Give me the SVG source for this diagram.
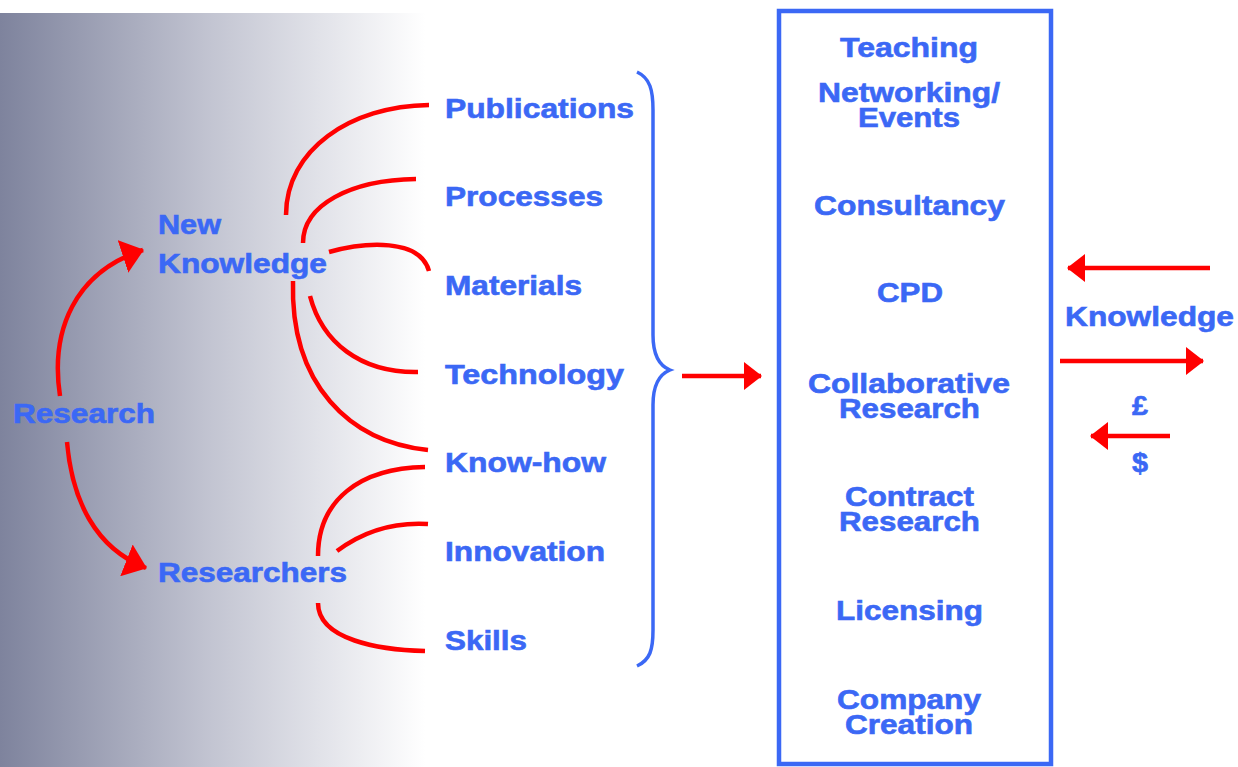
<svg xmlns="http://www.w3.org/2000/svg" width="1238" height="767" viewBox="0 0 1238 767">
<defs>
<linearGradient id="bg" x1="0" y1="0" x2="1" y2="0">
<stop offset="0" stop-color="#7e839d"/>
<stop offset="0.5" stop-color="#c3c5d2"/>
<stop offset="1" stop-color="#ffffff"/>
</linearGradient>
<marker id="ah" viewBox="0 0 18 28" refX="17" refY="14" markerWidth="18" markerHeight="28" markerUnits="userSpaceOnUse" orient="auto">
<path d="M0 0 L18 14 L0 28 Z" fill="#ff0000"/>
</marker>
<marker id="ahBig" viewBox="0 0 22 34" refX="21" refY="17" markerWidth="22" markerHeight="34" markerUnits="userSpaceOnUse" orient="auto">
<path d="M0 0 L22 17 L0 34 Z" fill="#ff0000"/>
</marker>
</defs>
<style>
text{font-family:"Liberation Sans",Arial,sans-serif;font-weight:bold;font-size:27px;fill:#3b68f5;stroke:#3b68f5;stroke-width:0.6}
.c{fill:none;stroke:#ff0000;stroke-width:4.5}
.a{fill:none;stroke:#ff0000;stroke-width:4.5}
.brace{fill:none;stroke:#3b68f5;stroke-width:3.5}
</style>
<rect x="0" y="0" width="1238" height="767" fill="#ffffff"/>
<rect x="0" y="13" width="425" height="754" fill="url(#bg)"/>

<g id="connectors">
<path class="a" d="M60 396 C50 330 75 272 143 250" marker-end="url(#ahBig)"/>
<path class="a" d="M67 442 C72 500 95 548 146 568" marker-end="url(#ahBig)"/>
<path class="c" d="M286 215 C286 150 350 106 429 105"/>
<path class="c" d="M303 243 C303 205 350 180 416 179"/>
<path class="c" d="M329 252 C365 242 420 238 429 271"/>
<path class="c" d="M310 296 C322 342 360 373 418 372"/>
<path class="c" d="M293 281 C290 385 350 442 428 450"/>
<path class="c" d="M318 556 C318 500 360 468 425 467"/>
<path class="c" d="M337 551 C365 530 395 522 428 524"/>
<path class="c" d="M318 603 C318 640 380 650 425 651"/>
<path class="brace" d="M637 72 C650 78 653 90 653 110 L653 335 C653 355 660 366 670 370 C660 374 653 385 653 405 L653 630 C653 650 650 660 637 666"/>
<path class="a" d="M682 376 L761 376" marker-end="url(#ah)"/>
<path class="a" d="M1210 268 L1068 268" marker-end="url(#ah)"/>
<path class="a" d="M1060 361 L1203 361" marker-end="url(#ah)"/>
<path class="a" d="M1170 436 L1091 436" marker-end="url(#ah)"/>
</g>

<g id="research"><text x="13" y="423" textLength="142" lengthAdjust="spacingAndGlyphs">Research</text></g>
<g id="new-knowledge">
<text x="158" y="234" textLength="63" lengthAdjust="spacingAndGlyphs">New</text>
<text x="158" y="273" textLength="169" lengthAdjust="spacingAndGlyphs">Knowledge</text>
</g>
<g id="researchers"><text x="158" y="582" textLength="189" lengthAdjust="spacingAndGlyphs">Researchers</text></g>

<g id="publications"><text x="445" y="118" textLength="189" lengthAdjust="spacingAndGlyphs">Publications</text></g>
<g id="processes"><text x="445" y="206" textLength="158" lengthAdjust="spacingAndGlyphs">Processes</text></g>
<g id="materials"><text x="445" y="295" textLength="137" lengthAdjust="spacingAndGlyphs">Materials</text></g>
<g id="technology"><text x="445" y="384" textLength="179" lengthAdjust="spacingAndGlyphs">Technology</text></g>
<g id="know-how"><text x="445" y="472" textLength="161" lengthAdjust="spacingAndGlyphs">Know-how</text></g>
<g id="innovation"><text x="445" y="561" textLength="160" lengthAdjust="spacingAndGlyphs">Innovation</text></g>
<g id="skills"><text x="445" y="650" textLength="82" lengthAdjust="spacingAndGlyphs">Skills</text></g>

<g id="channels">
<rect x="779" y="11" width="272" height="753" fill="none" stroke="#3b68f5" stroke-width="4.5"/>
<text x="840" y="57" textLength="138" lengthAdjust="spacingAndGlyphs">Teaching</text>
<text x="818" y="102" textLength="182" lengthAdjust="spacingAndGlyphs">Networking/</text>
<text x="858" y="127" textLength="102" lengthAdjust="spacingAndGlyphs">Events</text>
<text x="814" y="215" textLength="191" lengthAdjust="spacingAndGlyphs">Consultancy</text>
<text x="877" y="302" textLength="66" lengthAdjust="spacingAndGlyphs">CPD</text>
<text x="808" y="393" textLength="202" lengthAdjust="spacingAndGlyphs">Collaborative</text>
<text x="839" y="418" textLength="141" lengthAdjust="spacingAndGlyphs">Research</text>
<text x="845" y="506" textLength="129" lengthAdjust="spacingAndGlyphs">Contract</text>
<text x="839" y="531" textLength="141" lengthAdjust="spacingAndGlyphs">Research</text>
<text x="836" y="620" textLength="147" lengthAdjust="spacingAndGlyphs">Licensing</text>
<text x="837" y="709" textLength="144" lengthAdjust="spacingAndGlyphs">Company</text>
<text x="845" y="734" textLength="128" lengthAdjust="spacingAndGlyphs">Creation</text>
</g>

<g id="knowledge-label"><text x="1065" y="326" textLength="169" lengthAdjust="spacingAndGlyphs">Knowledge</text></g>
<g id="pound"><text x="1132" y="415" textLength="16" lengthAdjust="spacingAndGlyphs">£</text></g>
<g id="dollar"><text x="1132" y="472" textLength="16" lengthAdjust="spacingAndGlyphs">$</text></g>
</svg>
